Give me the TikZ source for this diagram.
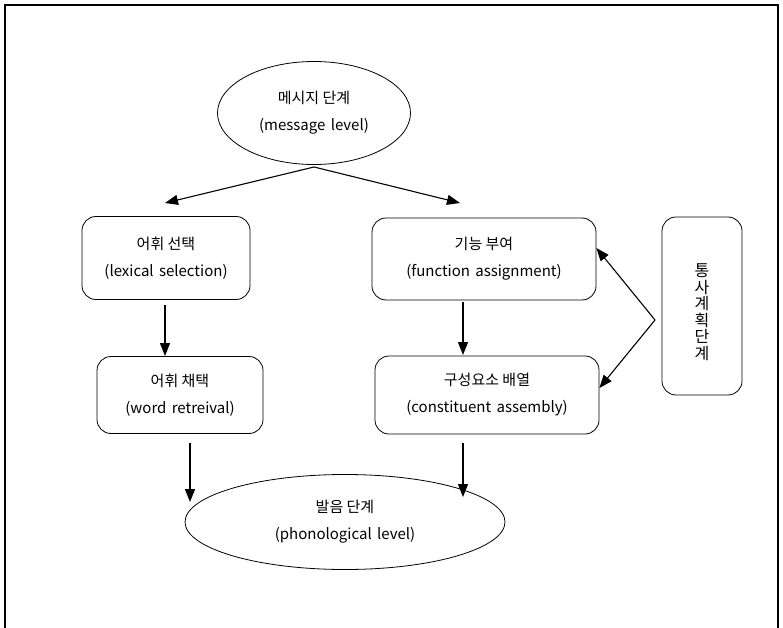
\documentclass[tikz,border=0pt]{standalone}
\usepackage{fontspec}
\setmainfont{Noto Sans CJK KR}
\usetikzlibrary{shapes.geometric,arrows.meta,calc}
\begin{document}
\begin{tikzpicture}[x=1pt,y=-1pt,
  txt/.style={align=center,font=\fontsize{15}{27}\selectfont,inner sep=0pt},
  box/.style={txt,draw,rounded corners=14pt,line width=0.8pt},
  ell/.style={txt,draw,ellipse,line width=0.8pt},
  arr/.style={-{Triangle[length=13pt,width=10pt]},line width=1.1pt},
  frame/.style={line width=1.4pt}]
\useasboundingbox (0,0) rectangle (783,628);
\coordinate (fbl) at (5,628);
\coordinate (ftl) at (5,5);
\coordinate (ftr) at (778,5);
\coordinate (fbr) at (778,628);
\draw[frame] (fbl) -- (ftl) -- (ftr) -- (fbr);

\node[ell,minimum width=193pt,minimum height=103pt] (msg) at (314,113)
  {메시지 단계\\(message\hspace{2pt} level)};
\node[box,minimum width=168pt,minimum height=83pt] (lex) at (166,258)
  {어휘 선택\\(lexical\hspace{2pt} selection)};
\node[box,minimum width=224pt,minimum height=82pt] (fun) at (484,259)
  {기능 부여\\(function\hspace{2pt} assignment)};
\node[box,minimum width=166pt,minimum height=77pt] (wor) at (180,395)
  {어휘 채택\\(word\hspace{2pt} retreival)};
\node[box,minimum width=224pt,minimum height=78pt] (con) at (487,395)
  {구성요소 배열\\(constituent\hspace{2pt} assembly)};
\node[box,minimum width=80pt,minimum height=178pt] (syn) at (702,306) {};
\node[txt,font=\fontsize{16}{16.5}\selectfont] (synt) at (702,312)
  {통\\사\\계\\획\\단\\계};
\node[ell,minimum width=320pt,minimum height=95pt] (pho) at (345,522)
  {발음 단계\\(phonological\hspace{2pt} level)};

% top split arrows
\coordinate (apex) at (314,167);
\coordinate (lexin) at (165,203);
\coordinate (funin) at (460,203);
\draw[arr] (apex) -- (lexin);
\draw[arr] (apex) -- (funin);

% vertical arrows
\coordinate (a1s) at (165,305);
\coordinate (a1e) at (165,356);
\draw[arr] (a1s) -- (a1e);
\coordinate (a2s) at (463,302);
\coordinate (a2e) at (463,355);
\draw[arr] (a2s) -- (a2e);
\coordinate (a3s) at (190,443);
\coordinate (a3e) at (190,502);
\draw[arr] (a3s) -- (a3e);
\coordinate (a4s) at (463,443);
\coordinate (a4e) at (463,497);
\draw[arr] (a4s) -- (a4e);

% bracket arrows from syntactic planning box
\coordinate (bra) at (655,320);
\draw[arr] (bra) -- (fun.east |- 0,248) ;
\draw[arr] (bra) -- (con.east |- 0,388);
\end{tikzpicture}
\end{document}
